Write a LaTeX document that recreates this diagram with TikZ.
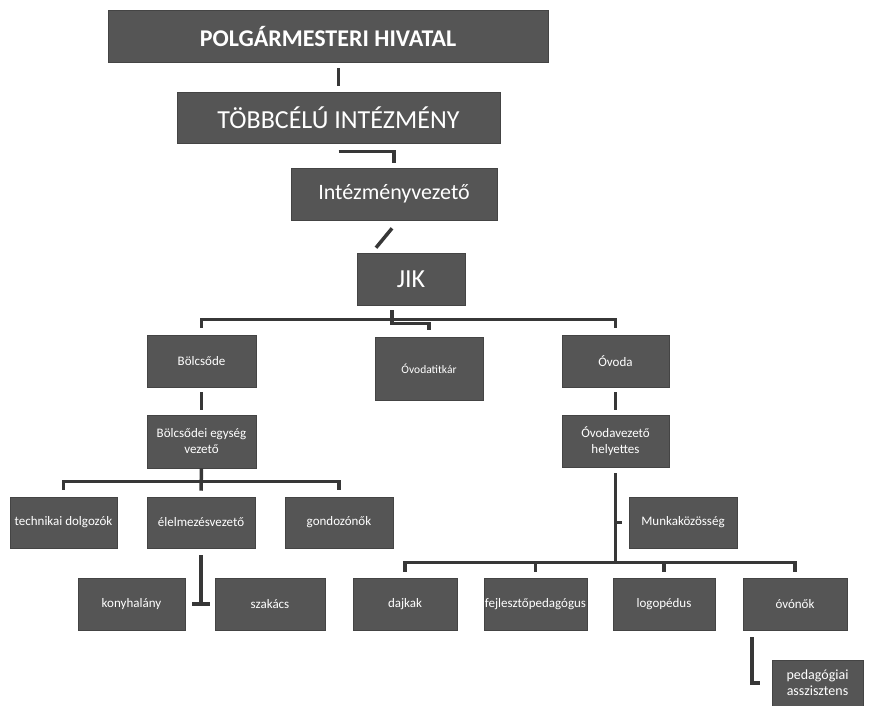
\documentclass[tikz,border=0pt]{standalone}
\usepackage{fontspec}
\setmainfont{Carlito}
\usetikzlibrary{calc}
\definecolor{boxgray}{RGB}{85,85,85}
\definecolor{linegray}{RGB}{55,55,55}
\begin{document}
\begin{tikzpicture}[x=1pt,y=-1pt,
  box/.style={fill=boxgray, draw=boxgray!80!black, line width=0.6pt, text=white, inner sep=1pt, align=center, font=\fontsize{13}{16}\selectfont},
  conn/.style={draw=linegray, line width=3.5pt}]
\useasboundingbox (0,0) rectangle (893,705);
% top chain
\node[box, minimum width=440, minimum height=52, font=\fontsize{24}{26}\bfseries] (polg) at (328,36) {POLGÁRMESTERI HIVATAL};
\node[box, minimum width=323, minimum height=51, font=\fontsize{26}{28}\selectfont] (tobb) at (338.5,117.5) {TÖBBCÉLÚ INTÉZMÉNY};
\node[box, minimum width=206, minimum height=52, font=\fontsize{22}{24}\selectfont] (intv) at (394,194) {Intézményvezető};
\node[box, minimum width=108, minimum height=52, font=\fontsize{26}{28}\selectfont] (jik) at (411,279) {JIK};
% second level
\node[box, minimum width=109, minimum height=52] (bolcs) at (201.5,361) {Bölcsőde};
\node[box, minimum width=108, minimum height=63, font=\fontsize{11.5}{13}\selectfont] (titk) at (429,368.5) {Óvodatitkár};
\node[box, minimum width=107, minimum height=52] (ovoda) at (615.5,361) {Óvoda};
\node[box, minimum width=109, minimum height=53] (bev) at (201.5,441.5) {Bölcsődei egység\\vezető};
\node[box, minimum width=107, minimum height=52] (ovh) at (615.5,441) {Óvodavezető\\helyettes};
% bölcsőde branch
\node[box, minimum width=107, minimum height=51] (tech) at (63.5,522.5) {technikai dolgozók};
\node[box, minimum width=108, minimum height=51] (elel) at (201,522.5) {élelmezésvezető};
\node[box, minimum width=108, minimum height=51] (gond) at (339,522.5) {gondozónők};
\node[box, minimum width=107, minimum height=52] (kony) at (131.5,604) {konyhalány};
\node[box, minimum width=110, minimum height=52] (szak) at (270,604) {szakács};
% óvoda branch
\node[box, minimum width=108, minimum height=51] (munka) at (683,522.5) {Munkaközösség};
\node[box, minimum width=104, minimum height=52] (dajk) at (405,604) {dajkak};
\node[box, minimum width=103, minimum height=52] (fejl) at (535.5,604) {fejlesztőpedagógus};
\node[box, minimum width=102, minimum height=52] (logo) at (664,604) {logopédus};
\node[box, minimum width=104, minimum height=52] (ovon) at (795,604) {óvónők};
\node[box, minimum width=91, minimum height=46, font=\fontsize{14}{16}\selectfont] (ped) at (817.5,683) {pedagógiai\\asszisztens};
% connectors
\draw[conn, shorten <=6pt, shorten >=6pt] (tobb.north) -- (tobb.north |- polg.south);
\draw[conn] ([yshift=-8pt]tobb.south) -| ([yshift=5pt]intv.north);
\draw[conn] ([xshift=-35pt,yshift=5pt]jik.north) -- ([xshift=-2pt,yshift=-8pt]intv.south);
\coordinate (j1) at ([xshift=-19pt,yshift=-5pt]jik.south);
\draw[conn] (j1) -- ++(0,13) -| ([yshift=7pt]titk.north);
\draw[conn] ([yshift=7pt]bolcs.north) |- ([yshift=15pt]ovoda.north) -- ([yshift=7pt]ovoda.north);
\draw[conn, shorten <=5pt, shorten >=5pt] (bolcs.south) -- (bev.north);
\draw[conn] (bev.south) -- ([yshift=6pt]elel.north);
\draw[conn] ([yshift=7pt]tech.north) |- ([yshift=15pt]gond.north) -- ([yshift=7pt]gond.north);
\draw[conn] ([yshift=-7pt]elel.south) -- (elel.south |- kony.east);
\draw[conn] ([xshift=7pt]kony.east) -- ([xshift=-5pt]szak.west);
\draw[conn, shorten <=5pt, shorten >=5pt] (ovoda.south) -- (ovh.north);
\draw[conn] ([yshift=-6pt]ovh.south) -- ([yshift=15pt]ovon.north -| ovh.south);
\draw[conn] (ovh.south |- munka.west) -- ([xshift=-7pt]munka.west);
\draw[conn] ([yshift=6pt]dajk.north) |- ([yshift=15pt]ovon.north) -- ([yshift=6pt]ovon.north);
\draw[conn] ([yshift=15pt]fejl.north) -- ([yshift=6pt]fejl.north);
\draw[conn] ([yshift=15pt]logo.north) -- ([yshift=6pt]logo.north);
\draw[conn] ([xshift=-43pt,yshift=-7pt]ovon.south) |- ([xshift=-12pt]ped.west);
\end{tikzpicture}
\end{document}
